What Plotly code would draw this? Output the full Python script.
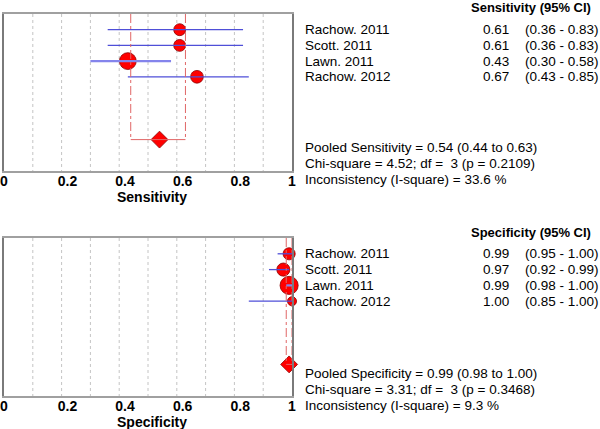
import plotly.graph_objects as go

# ---------------- data ----------------
studies = ["Rachow. 2011", "Scott. 2011", "Lawn. 2011", "Rachow. 2012"]

sens = [0.61, 0.61, 0.43, 0.67]
sens_lo = [0.36, 0.36, 0.30, 0.43]
sens_hi = [0.83, 0.83, 0.58, 0.85]
sens_weight = [19.5, 19.5, 38.9, 22.1]
sens_pooled = [0.54, 0.44, 0.63]          # estimate, lower, upper
sens_chi = [4.52, 3, 0.2109]              # chi-square, df, p
sens_i2 = 33.6

spec = [0.99, 0.97, 0.99, 1.00]
spec_lo = [0.95, 0.92, 0.98, 0.85]
spec_hi = [1.00, 0.99, 1.00, 1.00]
spec_weight = [20.2, 23.7, 45.0, 11.3]
spec_pooled = [0.99, 0.98, 1.00]
spec_chi = [3.31, 3, 0.3468]
spec_i2 = 9.3

tick_vals = [0, 0.2, 0.4, 0.6, 0.8, 1]
tick_text = ["0", "0.2", "0.4", "0.6", "0.8", "1"]
grid_vals = [0.1, 0.2, 0.3, 0.4, 0.5, 0.6, 0.7, 0.8, 0.9]

# ---------------- style ----------------
W, H = 600, 429
FONT = "Arial, Liberation Sans, sans-serif"
RED = "#ff0000"
EDGE = "#8b0000"
CI_STYLE = [("#4f4fd8", 1.3), ("#4f4fd8", 1.3), ("#8484ec", 2.2), ("#4f4fd8", 1.3)]
DASHRED = "#e06666"
GRID = "#c4c4c4"
rows = [1, 2, 3, 4]
pool_row = 8
y_top, y_bot = 0, 10     # y-axis range ends (rows run top to bottom)

# labels with decimals sit a little right of their tick in the original
tick_text_disp = [t if len(t) == 1 else "\u00a0\u00a0\u00a0" + t for t in tick_text]


def px_x(p):
    return p / W


def px_y(p):
    return 1 - p / H


fig = go.Figure()

panels = [
    dict(name="Sensitivity", vals=sens, lo=sens_lo, hi=sens_hi, w=sens_weight,
         pooled=sens_pooled, chi=sens_chi, i2=sens_i2, xa="x", ya="y",
         header_y=7, text_y=(147, 163, 179)),
    dict(name="Specificity", vals=spec, lo=spec_lo, hi=spec_hi, w=spec_weight,
         pooled=spec_pooled, chi=spec_chi, i2=spec_i2, xa="x2", ya="y2",
         header_y=232, text_y=(373, 389, 405)),
]

annotations = []
shapes = []

for k, p in enumerate(panels):
    xa, ya = p["xa"], p["ya"]
    # dotted grid
    for g in grid_vals:
        shapes.append(dict(type="line", xref=xa, yref=ya, x0=g, x1=g, y0=y_top, y1=y_bot,
                           line=dict(color=GRID, width=1, dash="dot"), layer="below"))
    # pooled CI reference lines
    for xv in (p["pooled"][1], p["pooled"][2]):
        shapes.append(dict(type="line", xref=xa, yref=ya, x0=xv, x1=xv, y0=y_top, y1=pool_row,
                           line=dict(color=DASHRED, width=1, dash="dashdot"), layer="above"))
    shapes.append(dict(type="line", xref=xa, yref=ya, x0=p["pooled"][1], x1=p["pooled"][2],
                       y0=pool_row, y1=pool_row,
                       line=dict(color=DASHRED, width=1), layer="above"))
    # study circles
    fig.add_trace(go.Scatter(
        x=p["vals"], y=rows, mode="markers", xaxis=xa, yaxis=ya,
        marker=dict(symbol="circle", size=[2.7 * (w ** 0.5) for w in p["w"]],
                    color=RED, opacity=1, line=dict(color=EDGE, width=0.8)),
        showlegend=False, hoverinfo="skip", cliponaxis=False))
    # CI lines (drawn above circles)
    for r, lo, hi, (col, lw) in zip(rows, p["lo"], p["hi"], CI_STYLE):
        fig.add_trace(go.Scatter(
            x=[lo, hi], y=[r, r], mode="lines", xaxis=xa, yaxis=ya,
            line=dict(color=col, width=lw), showlegend=False, hoverinfo="skip"))
    # pooled diamond
    fig.add_trace(go.Scatter(
        x=[p["pooled"][0]], y=[pool_row], mode="markers", xaxis=xa, yaxis=ya,
        marker=dict(symbol="diamond", size=13, color=RED, opacity=1,
                    line=dict(color=EDGE, width=0.8)),
        showlegend=False, hoverinfo="skip", cliponaxis=False))

    # axis title
    annotations.append(dict(xref=f"{xa} domain", yref=f"{ya} domain", x=0.5, y=0,
                            xanchor="center", yanchor="middle", xshift=4, yshift=-26,
                            showarrow=False, text=f"<b>{p['name']}</b>",
                            font=dict(family=FONT, size=14, color="black")))
    # text table
    annotations.append(dict(xref="paper", yref="paper", x=px_x(469), y=px_y(p["header_y"]),
                            xanchor="left", yanchor="middle", showarrow=False,
                            text=f"<b>{p['name']} (95% CI)</b>",
                            font=dict(family=FONT, size=13, color="black")))
    for r, s, v, lo, hi in zip(rows, studies, p["vals"], p["lo"], p["hi"]):
        annotations.append(dict(xref="paper", yref=ya, x=px_x(303), y=r,
                                xanchor="left", yanchor="middle", showarrow=False, text=s,
                                font=dict(family=FONT, size=13.5, color="black")))
        annotations.append(dict(xref="paper", yref=ya, x=px_x(511), y=r,
                                xanchor="right", yanchor="middle", showarrow=False, text=f"{v:.2f}",
                                font=dict(family=FONT, size=13.5, color="black")))
        annotations.append(dict(xref="paper", yref=ya, x=px_x(523), y=r,
                                xanchor="left", yanchor="middle", showarrow=False,
                                text=f"({lo:.2f} - {hi:.2f})",
                                font=dict(family=FONT, size=13.5, color="black")))
    lines = [
        f"Pooled {p['name']} = {p['pooled'][0]:.2f} ({p['pooled'][1]:.2f} to {p['pooled'][2]:.2f})",
        f"Chi-square = {p['chi'][0]:.2f}; df = \u00a0{p['chi'][1]} (p = {p['chi'][2]:.4f})",
        f"Inconsistency (I-square) = {p['i2']:.1f} %",
    ]
    for t, yy in zip(lines, p["text_y"]):
        annotations.append(dict(xref="paper", yref="paper", x=px_x(303), y=px_y(yy),
                                xanchor="left", yanchor="middle", showarrow=False, text=t,
                                font=dict(family=FONT, size=13.5, color="black")))

axis_common = dict(
    range=[0, 1], tickvals=tick_vals, ticktext=tick_text_disp, ticks="",
    tickfont=dict(family=FONT, size=14, color="black", weight="bold"),
    showline=True, mirror=True, linecolor="#a0a0a0", linewidth=2,
    showgrid=False, zeroline=False, fixedrange=True,
    ticklabelstandoff=-4, automargin=False,
)
yaxis_common = dict(range=[y_bot, y_top], autorange=False, showticklabels=False, showgrid=False,
                    zeroline=False, showline=True, mirror=True, linecolor="#7a7a7a", linewidth=2,
                    ticks="", fixedrange=True, automargin=False)

fig.update_layout(
    width=W, height=H, margin=dict(l=0, r=0, t=0, b=0, pad=0, autoexpand=False),
    paper_bgcolor="white", plot_bgcolor="white",
    font=dict(family=FONT, color="black"),
    xaxis=dict(axis_common, domain=[px_x(4), px_x(292)], anchor="y"),
    yaxis=dict(yaxis_common, domain=[px_y(171), px_y(14)], anchor="x"),
    xaxis2=dict(axis_common, domain=[px_x(4), px_x(292)], anchor="y2"),
    yaxis2=dict(yaxis_common, domain=[px_y(396), px_y(238)], anchor="x2"),
    annotations=annotations, shapes=shapes,
)

fig.write_html("out.html", post_script="document.body.style.margin='0';",
               config={"displayModeBar": False})
